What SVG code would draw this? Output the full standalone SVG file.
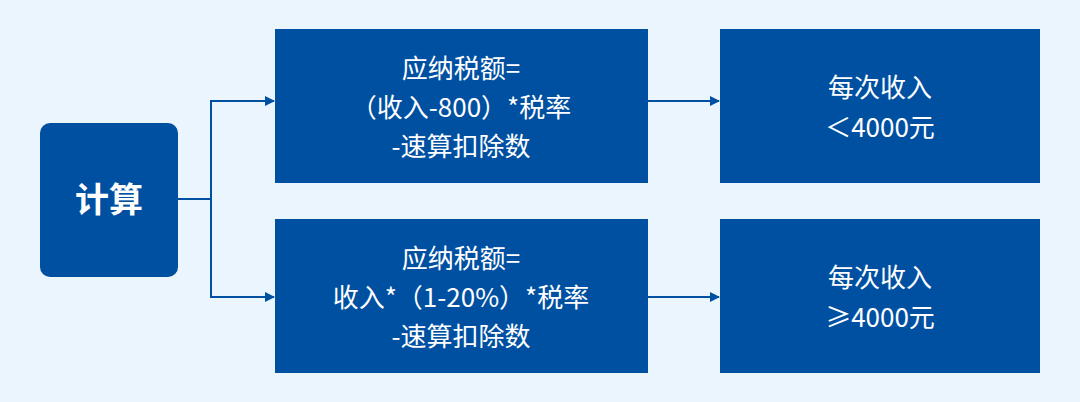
<svg xmlns="http://www.w3.org/2000/svg" width="1080" height="402" viewBox="0 0 1080 402">
<style>
.n{fill:#0050A2}
.t{fill:#fff;font-family:"Noto Sans CJK SC","Noto Sans",sans-serif;font-size:26px;text-anchor:middle}
.c{stroke:#0050A2;stroke-width:2;fill:none}
</style>
<defs><marker id="a" markerWidth="10" markerHeight="10" refX="9" refY="5" orient="auto" markerUnits="userSpaceOnUse"><path d="M0,0L10,5L0,10z" fill="#0050A2"/></marker></defs>
<rect width="1080" height="402" fill="#EBF5FD"/>
<g id="connectors">
<path class="c" d="M178,199H211V101H274" marker-end="url(#a)"/>
<path class="c" d="M211,199V297H274" marker-end="url(#a)"/>
<path class="c" d="M648,101H719" marker-end="url(#a)"/>
<path class="c" d="M648,297H719" marker-end="url(#a)"/>
</g>
<g id="calc"><rect class="n" x="40" y="123" width="138" height="154" rx="10"/><text class="t" x="109" y="212" style="font-size:34px;font-weight:bold">计算</text></g>
<g id="f1"><rect class="n" x="275" y="29" width="373" height="154"/><text class="t" x="461" y="78">应纳税额=</text><text class="t" x="461" y="117">（收入-800）*税率</text><text class="t" x="461" y="156">-速算扣除数</text></g>
<g id="f2"><rect class="n" x="275" y="219" width="373" height="154"/><text class="t" x="461" y="268">应纳税额=</text><text class="t" x="461" y="307">收入*（1-20%）*税率</text><text class="t" x="461" y="346">-速算扣除数</text></g>
<g id="c1"><rect class="n" x="720" y="29" width="320" height="154"/><text class="t" x="880" y="97">每次收入</text><text class="t" x="880" y="137">＜4000元</text></g>
<g id="c2"><rect class="n" x="720" y="219" width="320" height="154"/><text class="t" x="880" y="287">每次收入</text><text class="t" x="880" y="327">≥4000元</text></g>
</svg>
